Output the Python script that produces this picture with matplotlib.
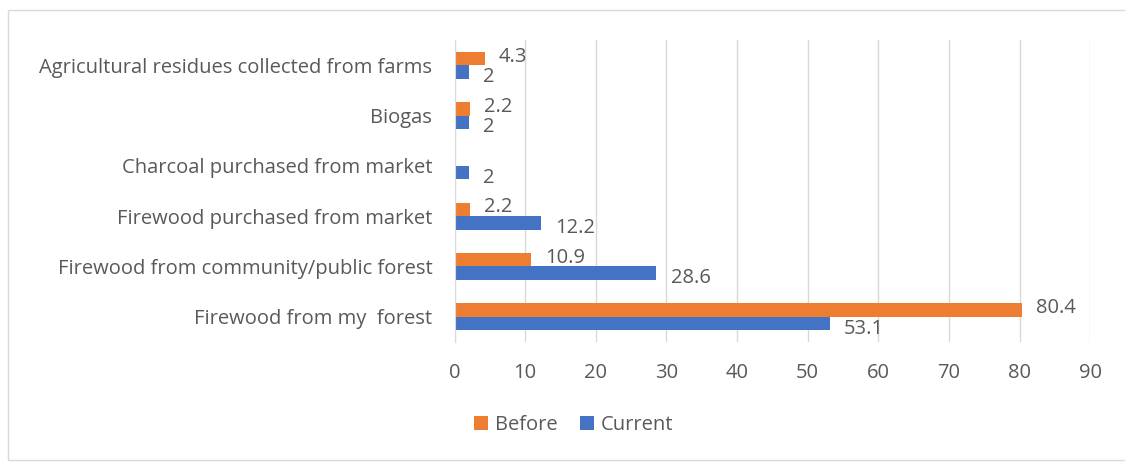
import numpy as np
import matplotlib.pyplot as plt
from matplotlib.patches import Rectangle

# energy sources, listed top to bottom
sources = [
    "Agricultural residues collected from farms",
    "Biogas",
    "Charcoal purchased from market",
    "Firewood purchased from market",
    "Firewood from community/public forest",
    "Firewood from my  forest",
]
before = [4.3, 2.2, np.nan, 2.2, 10.9, 80.4]
current = [2, 2, 2, 12.2, 28.6, 53.1]

orange = "#ED7D31"
blue = "#4472C4"
txt = "#595959"
fs = 14.5

plt.rcParams['font.family'] = ['Open Sans', 'DejaVu Sans']

fig = plt.figure(figsize=(11.25, 4.62), dpi=100)
ax = fig.add_axes([0.404, 0.26, 0.565, 0.653])

y = np.arange(len(sources))[::-1]
h = 0.27
b_before = ax.barh(y + h / 2, np.nan_to_num(before), height=h, color=orange, label="Before")
b_current = ax.barh(y - h / 2, current, height=h, color=blue, label="Current")

# value labels just past the bar ends (no label where there is no value)
for yy, v in zip(y + h / 2, before):
    if not np.isnan(v):
        ax.text(v + 2.0, yy + 0.04, f"{v:g}", va="center", ha="left", fontsize=fs, color=txt)
for yy, v in zip(y - h / 2, current):
    ax.text(v + 2.0, yy - 0.1, f"{v:g}", va="center", ha="left", fontsize=fs, color=txt)

ax.set_xlim(0, 90)
ax.set_ylim(-0.5, len(sources) - 0.5)
ax.set_xticks(range(0, 91, 10))
ax.set_yticks(y)
ax.set_yticklabels(sources)
ax.tick_params(axis="both", length=0, labelsize=fs, colors=txt)
ax.tick_params(axis="x", pad=15)
ax.tick_params(axis="y", pad=16)
ax.grid(axis="x", color="#D9D9D9", linewidth=1)
ax.set_axisbelow(True)
for s in ["top", "right", "bottom"]:
    ax.spines[s].set_visible(False)
ax.spines["left"].set_color("#D9D9D9")

fig.legend(handles=[b_before, b_current], loc="center", bbox_to_anchor=(0.51, 0.08),
           ncol=2, frameon=False, fontsize=fs, labelcolor=txt,
           handlelength=0.7, handleheight=0.7, handletextpad=0.35, columnspacing=1.1)

# light frame around the whole chart
fig.patches.append(Rectangle((0.007, 0.005), 1.2, 0.973, transform=fig.transFigure,
                             fill=False, edgecolor="#D9D9D9", linewidth=1))

fig.savefig("out.png", dpi=100)
